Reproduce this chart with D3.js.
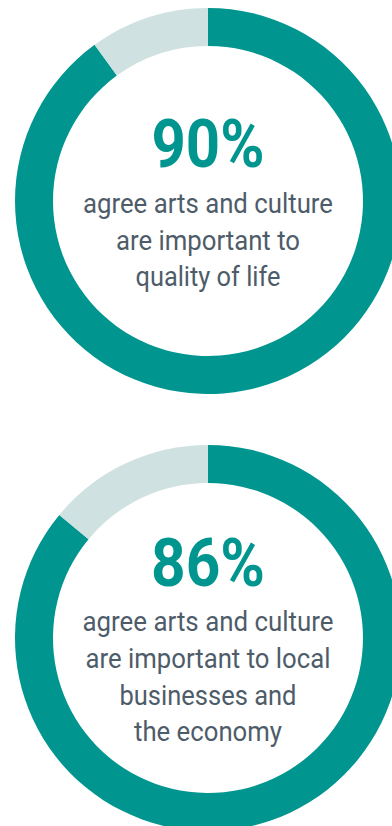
<!DOCTYPE html>
<html>
<head>
<meta charset="utf-8">
<script src="https://cdn.jsdelivr.net/npm/d3@7"></script>
<style>
  html, body { margin: 0; padding: 0; background: #ffffff; }
  svg { display: block; }
</style>
</head>
<body>
<svg id="chart" width="392" height="826"></svg>
<script>
// Share of respondents who agree (percent)
const shares = [90, 86];
const percentLabels = ["90%", "86%"];
const captionLines = [
  ["agree arts and culture", "are important to", "quality of life"],
  ["agree arts and culture", "are important to local", "businesses and", "the economy"]
];
// Text widths that give the condensed look with the installed fonts
const percentWidths = [113, 114];
const captionWidths = [
  [250, 184, 145],
  [251, 245, 177, 148]
];

const W = 392, H = 826;
const svg = d3.select("#chart");

const colors = { agree: "#00968f", rest: "#cfe1e0", text: "#4e5c69" };
const outerR = 193, innerR = 155;
const cx = 208;
const centerY = d3.scaleOrdinal().domain([0, 1]).range([201, 638]);

const pie = d3.pie().sort(null).value(d => d.value);
const arc = d3.arc().innerRadius(innerR).outerRadius(outerR);

// Baseline offsets from each ring's centre
const percentBaseline = [-34.5, -52];
const captionBaseline = [12, -6.7];
const lineStep = 36.65;

shares.forEach((s, i) => {
  const g = svg.append("g").attr("transform", `translate(${cx},${centerY(i)})`);
  const slices = pie([
    { key: "agree", value: s },
    { key: "rest", value: 100 - s }
  ]);
  g.selectAll("path")
    .data(slices)
    .join("path")
    .attr("d", arc)
    .attr("fill", d => colors[d.data.key]);

  // Big percentage
  g.append("text")
    .attr("x", 0)
    .attr("y", percentBaseline[i])
    .attr("text-anchor", "middle")
    .attr("font-family", "Roboto, 'Liberation Sans', sans-serif")
    .attr("font-weight", 700)
    .attr("font-size", 66)
    .attr("fill", colors.agree)
    .attr("textLength", percentWidths[i])
    .attr("lengthAdjust", "spacingAndGlyphs")
    .text(percentLabels[i]);

  // Caption lines
  captionLines[i].forEach((line, j) => {
    g.append("text")
      .attr("x", 0)
      .attr("y", captionBaseline[i] + j * lineStep)
      .attr("text-anchor", "middle")
      .attr("font-family", "Roboto, 'Liberation Sans', sans-serif")
      .attr("font-weight", 400)
      .attr("font-size", 27)
      .attr("fill", colors.text)
      .attr("textLength", captionWidths[i][j])
      .attr("lengthAdjust", "spacingAndGlyphs")
      .text(line);
  });
});
</script>
</body>
</html>
